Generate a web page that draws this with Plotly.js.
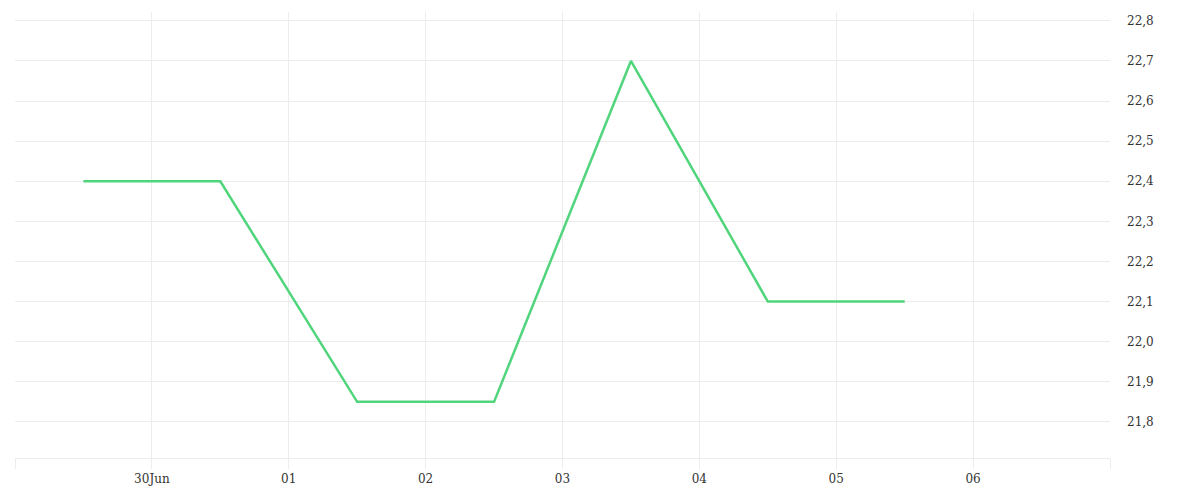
<!DOCTYPE html>
<html>
<head>
<meta charset="utf-8">
<script src="https://cdn.plot.ly/plotly-3.0.1.min.js"></script>
<style>html,body{margin:0;padding:0;background:#fff;}#chart{width:1200px;height:500px;}</style>
</head>
<body>
<div id="chart"></div>
<script>
const dates = ["2023-06-29 12:00","2023-06-30 12:00","2023-07-01 12:00","2023-07-02 12:00","2023-07-03 12:00","2023-07-04 12:00","2023-07-05 12:00"];
const values = [22.4, 22.4, 21.85, 21.85, 22.7, 22.1, 22.1];
const xTickVals = ["2023-06-29","2023-06-30","2023-07-01","2023-07-02","2023-07-03","2023-07-04","2023-07-05","2023-07-06","2023-07-07"];
const xTickText = ["","30Jun","01","02","03","04","05","06",""];
const yTickVals = [21.8,21.9,22.0,22.1,22.2,22.3,22.4,22.5,22.6,22.7,22.8];
const yTickText = ["21,8","21,9","22,0","22,1","22,2","22,3","22,4","22,5","22,6","22,7","22,8"];

const trace = {
  x: dates, y: values, type: "scatter", mode: "lines",
  line: {color: "#50d57c", width: 2.5},
  hoverinfo: "x+y"
};
const font = {family: "DejaVu Serif", size: 12, color: "#333"};
const layout = {
  width: 1200, height: 500,
  margin: {l: 15, r: 90, t: 12, b: 42},
  paper_bgcolor: "#fff", plot_bgcolor: "#fff",
  showlegend: false,
  font: font,
  xaxis: {
    type: "date",
    range: ["2023-06-29 00:00","2023-07-07 00:00"],
    tickmode: "array", tickvals: xTickVals, ticktext: xTickText,
    showgrid: true, gridcolor: "#ececec", gridwidth: 1,
    ticks: "outside", ticklen: 10, tickcolor: "#ececec", tickwidth: 1,
    showline: true, linecolor: "#ececec", linewidth: 1,
    zeroline: false, tickfont: font
  },
  yaxis: {
    side: "right",
    range: [21.71, 22.822],
    tickmode: "array", tickvals: yTickVals, ticktext: yTickText,
    showgrid: true, gridcolor: "#ececec", gridwidth: 1,
    ticks: "", ticklabelstandoff: 16,
    showline: false, zeroline: false, tickfont: font
  }
};
Plotly.newPlot("chart", [trace], layout, {displayModeBar: false, staticPlot: true});
</script>
</body>
</html>
